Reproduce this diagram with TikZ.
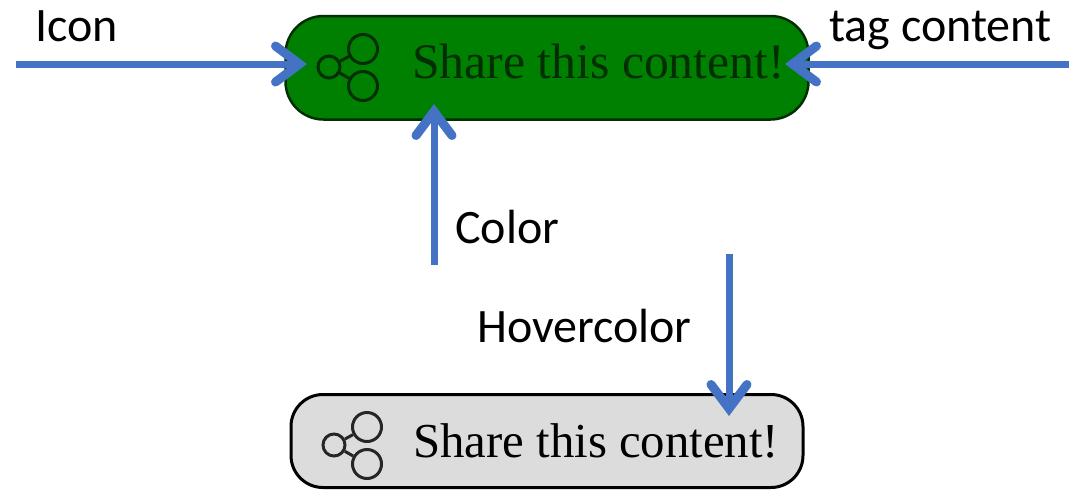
\documentclass[tikz,border=0pt]{standalone}
\usepackage{fontspec}
\setmainfont{Carlito}
\newfontfamily\serifface{Liberation Serif}
\usetikzlibrary{arrows.meta}
\definecolor{arrowblue}{HTML}{4472C4}
\definecolor{btngreen}{HTML}{008000}
\definecolor{btndark}{HTML}{022E02}
\definecolor{btngray}{HTML}{DCDCDC}
\tikzset{
  flow/.style={draw=arrowblue,line width=7pt,-{Straight Barb[length=24pt,width=36pt,line width=9pt,line cap=round,line join=miter]}},
  lbl/.style={inner sep=0pt,font=\fontsize{48}{48}\selectfont,anchor=base west},
  btntext/.style={inner sep=0pt,anchor=base west},
  ring/.style={circle,inner sep=0pt,line width=3pt,fill=none}
}
\begin{document}
\begin{tikzpicture}[x=1pt,y=-1pt]
\useasboundingbox (0,0) rectangle (1069,499);
% buttons
\draw[btndark,fill=btngreen,line width=2.5pt,rounded corners=38pt] (285.5,16) rectangle (808.5,119.5);
\draw[black,fill=btngray,line width=3pt,rounded corners=32pt] (291,394.5) rectangle (803,487.5);
% button text
\node[btntext,text=btndark,font=\serifface\fontsize{49.7}{50}\selectfont] (t1) at (412,78) {Share this content!};
\node[btntext,text=black,font=\serifface\fontsize{48.8}{49}\selectfont] (t2) at (413,457) {Share this content!};
% icons
\node[ring,draw=btndark,minimum size=22pt] (i1a) at (329,67) {};
\node[ring,draw=btndark,minimum size=29pt] (i1b) at (363,49) {};
\node[ring,draw=btndark,minimum size=29pt] (i1c) at (363,86) {};
\draw[btndark,line width=3pt] (i1a) -- (i1b) (i1a) -- (i1c);
\node[ring,draw=black!85,minimum size=22pt] (i2a) at (334,445) {};
\node[ring,draw=black!85,minimum size=29pt] (i2b) at (367,427) {};
\node[ring,draw=black!85,minimum size=29pt] (i2c) at (367,464) {};
\draw[black!85,line width=3pt] (i2a) -- (i2b) (i2a) -- (i2c);
% labels
\node[lbl] (icon) at (35,41) {Icon};
\node[lbl] (tag) at (829,41) {tag content};
\node[lbl] (color) at (455,243) {Color};
\node[lbl] (hover) at (477,342) {Hovercolor};
% connector ends
\coordinate (s1) at (16,64);
\coordinate (e1) at (307,64);
\coordinate (s2) at (1069,64);
\coordinate (e2) at (785,64);
\coordinate (s3) at (434,265);
\coordinate (e3) at (434,104);
\coordinate (s4) at (729,254);
\coordinate (e4) at (729,416);
\draw[flow] (s1) -- (e1);
\draw[flow] (s2) -- (e2);
\draw[flow] (s3) -- (e3);
\draw[flow] (s4) -- (e4);
\end{tikzpicture}
\end{document}
